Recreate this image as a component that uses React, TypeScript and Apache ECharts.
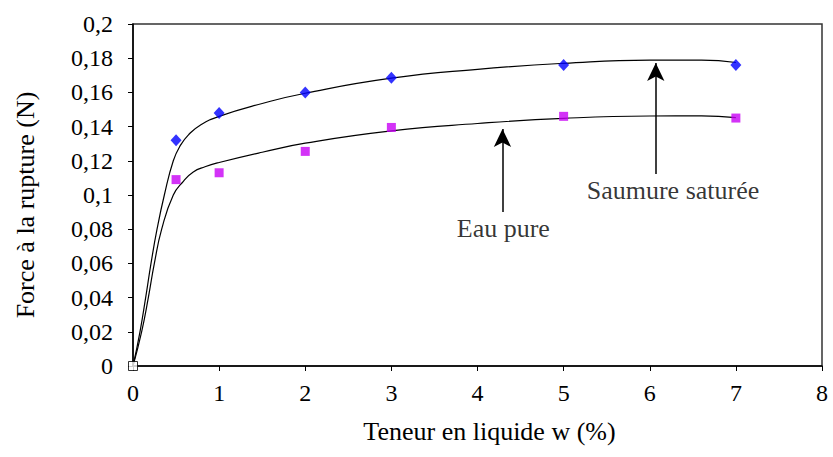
import React, { useEffect, useRef } from "react";
import * as echarts from "echarts";

// Measured points
const saumureX = [0.5, 1, 2, 3, 5, 7];
const saumureY = [0.132, 0.148, 0.16, 0.1685, 0.176, 0.176];
const eauX = [0.5, 1, 2, 3, 5, 7];
const eauY = [0.109, 0.113, 0.1255, 0.1395, 0.146, 0.145];
const originPoint = [0, 0];

// Trend curves
const saumureCurveX = [0, 0.081, 0.147, 0.209, 0.279, 0.364, 0.468, 0.55, 0.65, 0.78, 1.0, 1.5, 2.0, 3.0, 4.0, 5.0, 6.0, 6.6, 7.0];
const saumureCurveY = [0, 0.02, 0.04, 0.06, 0.08, 0.1, 0.12, 0.129, 0.1355, 0.1408, 0.146, 0.1535, 0.1595, 0.1683, 0.1735, 0.177, 0.1789, 0.1789, 0.1775];
const eauCurveX = [0, 0.1, 0.178, 0.248, 0.333, 0.468, 0.585, 0.7, 0.836, 1.0, 1.5, 2.0, 3.0, 4.0, 5.0, 6.0, 6.6, 7.0];
const eauCurveY = [0, 0.02, 0.04, 0.06, 0.08, 0.1, 0.108, 0.1135, 0.1165, 0.119, 0.125, 0.1303, 0.1375, 0.1418, 0.1448, 0.1462, 0.1463, 0.1452];

// Annotations
const annotationNames = ["Saumure saturée", "Eau pure"];
const annotationPos = [[6.27, 0.1025], [4.3, 0.0805]];
const arrowX = [6.07, 4.29];
const arrowFromY = [0.1123, 0.09];
const arrowToY = [0.1772, 0.1386];

const xTitle = "Teneur en liquide w (%)";
const yTitle = "Force à la rupture (N)";

const FONT = "'Liberation Serif', 'Times New Roman', serif";

const zip = (xs: number[], ys: number[]) => xs.map((x, i) => [x, ys[i]]);

export default function App() {
  const ref = useRef<HTMLDivElement>(null);
  useEffect(() => {
    if (!ref.current) return;
    const chart = echarts.init(ref.current, null, { renderer: "svg" });
    chart.setOption({
      animation: false,
      backgroundColor: "#fff",
      grid: {
        left: 133,
        right: 11,
        top: 24,
        bottom: 91,
        show: true,
        borderColor: "#333",
        borderWidth: 1.5,
      },
      xAxis: {
        type: "value",
        min: 0,
        max: 8,
        interval: 1,
        name: xTitle,
        nameLocation: "middle",
        nameGap: 52,
        nameTextStyle: { fontFamily: FONT, fontSize: 26, color: "#000", padding: [0, 0, 0, 24] },
        axisLine: { show: true, lineStyle: { color: "#000", width: 1.5 } },
        axisTick: { show: true, inside: false, length: 5, lineStyle: { color: "#000", width: 1 } },
        axisLabel: { fontFamily: FONT, fontSize: 24, color: "#000", margin: 15 },
        splitLine: { show: false },
      },
      yAxis: {
        type: "value",
        min: 0,
        max: 0.2,
        interval: 0.02,
        name: yTitle,
        nameLocation: "middle",
        nameGap: 95,
        nameTextStyle: { fontFamily: FONT, fontSize: 26, color: "#000", padding: [0, 20, 0, 0] },
        axisLine: { show: true, lineStyle: { color: "#000", width: 1.5 } },
        axisTick: { show: true, inside: false, length: 5, lineStyle: { color: "#000", width: 1 } },
        axisLabel: {
          fontFamily: FONT,
          fontSize: 24,
          color: "#000",
          margin: 20,
          formatter: (v: number) => (v === 0 ? "0" : String(parseFloat(v.toFixed(2))).replace(".", ",")),
        },
        splitLine: { show: false },
      },
      series: [
        {
          type: "line",
          data: zip(saumureCurveX, saumureCurveY),
          smooth: 0.5,
          showSymbol: false,
          lineStyle: { color: "#000", width: 1.2 },
          z: 2,
          silent: true,
        },
        {
          type: "line",
          data: zip(eauCurveX, eauCurveY),
          smooth: 0.5,
          showSymbol: false,
          lineStyle: { color: "#000", width: 1.2 },
          z: 2,
          silent: true,
        },
        {
          type: "scatter",
          data: zip(saumureX, saumureY),
          symbol: "diamond",
          symbolSize: [11, 12],
          itemStyle: { color: "#0000FF" },
          z: 3,
        },
        {
          type: "scatter",
          data: zip(eauX, eauY),
          symbol: "rect",
          symbolSize: 9,
          itemStyle: { color: "#C800F5" },
          z: 3,
        },
        {
          type: "scatter",
          data: [originPoint],
          symbol: "rect",
          symbolSize: 9,
          itemStyle: { color: "#fff", borderColor: "#000", borderWidth: 1 },
          z: 4,
        },
        {
          type: "scatter",
          data: annotationPos.map((p, i) => ({ value: p, name: annotationNames[i] })),
          symbolSize: 0,
          silent: true,
          label: {
            show: true,
            position: "inside",
            formatter: (p: any) => p.name,
            fontFamily: FONT,
            fontSize: 26,
            color: "#000",
          },
          markLine: {
            silent: true,
            symbol: ["none", "arrow"],
            symbolSize: [13, 18],
            lineStyle: { color: "#000", width: 1.5, type: "solid" },
            label: { show: false },
            data: arrowX.map((x, i) => [
              { coord: [x, arrowFromY[i]] },
              { coord: [x, arrowToY[i]] },
            ]),
          },
          z: 5,
        },
      ],
    });
    return () => chart.dispose();
  }, []);
  return <div ref={ref} style={{ width: 833, height: 457, position: "absolute", left: 0, top: 0 }} />;
}
